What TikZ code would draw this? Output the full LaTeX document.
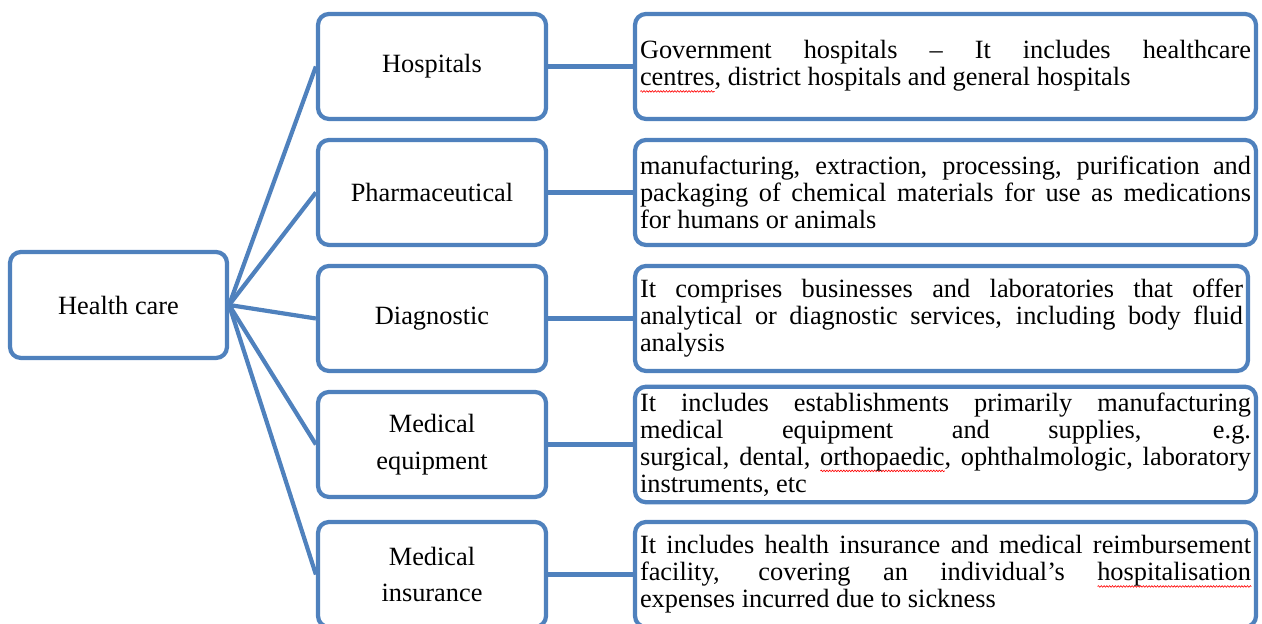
\documentclass[tikz,border=0pt]{standalone}
\usepackage{fontspec}
\setmainfont{Liberation Serif}
\usepackage{tikz}
\usetikzlibrary{decorations.pathmorphing}

\definecolor{boxblue}{HTML}{4F81BD}

% red spelling wave under a word
\newsavebox{\spellbox}
\newlength{\spelllen}
\newcommand{\spellwave}[1]{\sbox{\spellbox}{#1}\setlength{\spelllen}{\wd\spellbox}%
  \rlap{\raisebox{-3.2pt}{\tikz[baseline=0pt] \draw [red, line width=0.35pt, sharp corners, decorate,
    decoration={snake, amplitude=0.45pt, segment length=1.6pt}] (0,0) -- (\spelllen,0);}}\usebox{\spellbox}}

\tikzset{
  hcbox/.style={draw=boxblue, line width=2.4pt, rounded corners=0.22cm, fill=white,
    align=center, font=\fontsize{15}{21}\selectfont},
  sectorbox/.style={hcbox, minimum width=4.56cm, minimum height=2.1cm},
  descbox/.style={draw=boxblue, line width=2.4pt, rounded corners=0.22cm, fill=white,
    inner xsep=0.1cm, minimum height=2.1cm, align=justify,
    font=\fontsize{15}{15.4}\selectfont,
    execute at begin node={\tolerance=10000\hyphenpenalty=10000}},
  link/.style={draw=boxblue, line width=2.4pt}
}

\begin{document}
\begin{tikzpicture}

\useasboundingbox (0,0) rectangle (25.24,12.48);

% root
\node [hcbox, minimum width=4.34cm, minimum height=2.12cm] (health) at (2.37, 6.38) {Health care};

% sectors
\node [sectorbox] (hosp) at (8.64, 11.15) {Hospitals};
\node [sectorbox] (pharma) at (8.64, 8.63) {Pharmaceutical};
\node [sectorbox] (diag) at (8.64, 6.11) {Diagnostic};
\node [sectorbox] (equip) at (8.64, 3.59) {Medical\\equipment};
\node [sectorbox] (insur) at (8.64, 0.99) {Medical\\insurance};

% descriptions
\node [descbox, text width=12.22cm] (hospdesc) at (18.91, 11.15) {Government hospitals -- It includes healthcare\linebreak \spellwave{centres}, district hospitals and general hospitals};
\node [descbox, text width=12.22cm] (pharmadesc) at (18.91, 8.63) {manufacturing, extraction, processing, purification and\linebreak packaging of chemical materials for use as medications\linebreak for humans or animals};
\node [descbox, text width=12.06cm] (diagdesc) at (18.83, 6.11) {It comprises businesses and laboratories that offer\linebreak analytical or diagnostic services, including body fluid\linebreak analysis};
\node [descbox, text width=12.22cm] (equipdesc) at (18.91, 3.59) {It includes establishments primarily manufacturing\linebreak medical equipment and supplies, e.g.\linebreak surgical, dental, \spellwave{orthopaedic}, ophthalmologic, laboratory\linebreak instruments, etc};
\node [descbox, text width=12.22cm] (insurdesc) at (18.91, 0.99) {It includes health insurance and medical reimbursement\linebreak facility, covering an individual’s \spellwave{hospitalisation}\linebreak expenses incurred due to sickness};

% fan out from root
\draw [link] (health.east) -- (hosp.west);
\draw [link] (health.east) -- (pharma.west);
\draw [link] (health.east) -- (diag.west);
\draw [link] (health.east) -- (equip.west);
\draw [link] (health.east) -- (insur.west);

% sector to description
\draw [link] (hosp.east) -- (hospdesc.west);
\draw [link] (pharma.east) -- (pharmadesc.west);
\draw [link] (diag.east) -- (diagdesc.west);
\draw [link] (equip.east) -- (equipdesc.west);
\draw [link] (insur.east) -- (insurdesc.west);

\end{tikzpicture}
\end{document}
